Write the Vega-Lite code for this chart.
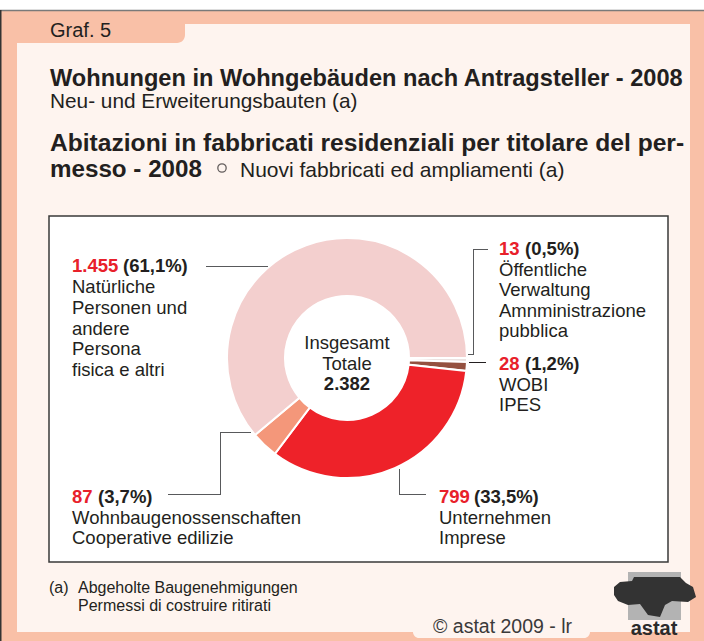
{
"$schema": "https://vega.github.io/schema/vega-lite/v6.json",
"width": 704, "height": 641,
"autosize": {"type": "none"},
"padding": 0,
"background": "white",
"config": {"view": {"stroke": null}, "font": "Liberation Sans"},
"data": {"values": [
 {"cat": "Öffentliche Verwaltung", "value": 13, "rank": 1, "num": "13", "pct": "(0,5%)", "desc": "Öffentliche\nVerwaltung\nAmnministrazione\npubblica"},
 {"cat": "WOBI", "value": 28, "rank": 2, "num": "28", "pct": "(1,2%)", "desc": "WOBI\nIPES"},
 {"cat": "Unternehmen", "value": 799, "rank": 3, "num": "799", "pct": "(33,5%)", "desc": "Unternehmen\nImprese"},
 {"cat": "Wohnbaugenossenschaften", "value": 87, "rank": 4, "num": "87", "pct": "(3,7%)", "desc": "Wohnbaugenossenschaften\nCooperative edilizie"},
 {"cat": "Natürliche Personen", "value": 1455, "rank": 5, "num": "1.455", "pct": "(61,1%)", "desc": "Natürliche\nPersonen und\nandere\nPersona\nfisica e altri"}
]},
"layer": [
 {"data": {"values": [{}]}, "mark": {"type": "rect", "fill": "#f9c0a7"},
  "encoding": {"x": {"datum": 0, "type": "quantitative", "scale": {"domain": [0, 704], "nice": false, "zero": false}, "axis": null},
   "x2": {"datum": 704}, "y": {"datum": 10, "type": "quantitative", "scale": {"domain": [0, 641], "nice": false, "zero": false, "reverse": true}, "axis": null}, "y2": {"datum": 641}}},
 {"data": {"values": [{}]}, "mark": {"type": "rect", "fill": "#fef4ef"},
  "encoding": {"x": {"datum": 17, "type": "quantitative"}, "x2": {"datum": 690}, "y": {"datum": 24, "type": "quantitative"}, "y2": {"datum": 632}}},
 {"data": {"values": [{}]}, "mark": {"type": "rect", "fill": "#fef4ef", "cornerRadius": 6},
  "encoding": {"x": {"datum": 413, "type": "quantitative"}, "x2": {"datum": 590}, "y": {"datum": 612, "type": "quantitative"}, "y2": {"datum": 638}}},
 {"data": {"values": [{}]}, "mark": {"type": "rect", "fill": "#f9c0a7", "cornerRadiusBottomRight": 8},
  "encoding": {"x": {"datum": 15, "type": "quantitative"}, "x2": {"datum": 185}, "y": {"datum": 10, "type": "quantitative"}, "y2": {"datum": 43}}},
 {"data": {"values": [{}]}, "mark": {"type": "rect", "fill": "white", "stroke": "#3a3a3a", "strokeWidth": 1.5},
  "encoding": {"x": {"datum": 49, "type": "quantitative"}, "x2": {"datum": 668}, "y": {"datum": 216, "type": "quantitative"}, "y2": {"datum": 562}}},
 {"data": {"values": [{}]}, "mark": {"type": "rule", "color": "#7a7a7a", "strokeWidth": 1.5},
  "encoding": {"x": {"datum": 0, "type": "quantitative"}, "x2": {"datum": 704}, "y": {"datum": 10.5, "type": "quantitative"}, "y2": {"datum": 10.5}}},
 {"data": {"values": [{}]}, "mark": {"type": "rule", "color": "#333333", "strokeWidth": 1.5},
  "encoding": {"x": {"datum": 0.75, "type": "quantitative"}, "x2": {"datum": 0.75}, "y": {"datum": 10, "type": "quantitative"}, "y2": {"datum": 641}}},

 {"data": {"values": [{}]}, "mark": {"type": "text", "text": "Graf. 5", "align": "left", "baseline": "alphabetic", "fontSize": 20, "color": "#231f20"},
  "encoding": {"x": {"datum": 50, "type": "quantitative"}, "y": {"datum": 37, "type": "quantitative"}}},
 {"data": {"values": [{}]}, "mark": {"type": "text", "text": "Wohnungen in Wohngebäuden nach Antragsteller - 2008", "align": "left", "baseline": "alphabetic", "fontSize": 23.6, "fontWeight": "bold", "color": "#231f20"},
  "encoding": {"x": {"datum": 50, "type": "quantitative"}, "y": {"datum": 86, "type": "quantitative"}}},
 {"data": {"values": [{}]}, "mark": {"type": "text", "text": "Neu- und Erweiterungsbauten (a)", "align": "left", "baseline": "alphabetic", "fontSize": 20.8, "color": "#231f20"},
  "encoding": {"x": {"datum": 50, "type": "quantitative"}, "y": {"datum": 108, "type": "quantitative"}}},
 {"data": {"values": [{}]}, "mark": {"type": "text", "text": "Abitazioni in fabbricati residenziali per titolare del per-", "align": "left", "baseline": "alphabetic", "fontSize": 24.6, "fontWeight": "bold", "color": "#231f20"},
  "encoding": {"x": {"datum": 50, "type": "quantitative"}, "y": {"datum": 151, "type": "quantitative"}}},
 {"data": {"values": [{}]}, "mark": {"type": "text", "text": "messo - 2008", "align": "left", "baseline": "alphabetic", "fontSize": 24.2, "fontWeight": "bold", "color": "#231f20"},
  "encoding": {"x": {"datum": 50, "type": "quantitative"}, "y": {"datum": 177, "type": "quantitative"}}},
 {"data": {"values": [{}]}, "mark": {"type": "point", "shape": "circle", "filled": false, "size": 70, "stroke": "#231f20", "strokeWidth": 1.3},
  "encoding": {"x": {"datum": 222, "type": "quantitative"}, "y": {"datum": 168, "type": "quantitative"}}},
 {"data": {"values": [{}]}, "mark": {"type": "text", "text": "Nuovi fabbricati ed ampliamenti (a)", "align": "left", "baseline": "alphabetic", "fontSize": 21, "color": "#231f20"},
  "encoding": {"x": {"datum": 240, "type": "quantitative"}, "y": {"datum": 177, "type": "quantitative"}}},

 {"mark": {"type": "arc", "innerRadius": 62, "outerRadius": 120, "stroke": "white", "strokeWidth": 2, "x": {"expr": "scale('x', 347)"}, "y": {"expr": "scale('y', 358)"}},
  "encoding": {
   "theta": {"field": "value", "type": "quantitative", "stack": true, "scale": {"range": [1.5708, 7.8540]}},
   "order": {"field": "rank", "type": "quantitative"},
   "color": {"field": "cat", "type": "nominal", "legend": null,
    "scale": {"domain": ["Öffentliche Verwaltung", "WOBI", "Unternehmen", "Wohnbaugenossenschaften", "Natürliche Personen"],
     "range": ["#ece3e1", "#94503f", "#ee2229", "#f4977a", "#f3cfce"]}}}},

 {"data": {"values": [{}]}, "mark": {"type": "text", "text": ["Insgesamt", "Totale"], "align": "center", "baseline": "alphabetic", "fontSize": 18.5, "lineHeight": 21, "color": "#231f20"},
  "encoding": {"x": {"datum": 347, "type": "quantitative"}, "y": {"datum": 349, "type": "quantitative"}}},
 {"data": {"values": [{}]}, "mark": {"type": "text", "text": "2.382", "align": "center", "baseline": "alphabetic", "fontSize": 18.5, "fontWeight": "bold", "color": "#231f20"},
  "encoding": {"x": {"datum": 347, "type": "quantitative"}, "y": {"datum": 390, "type": "quantitative"}}},

 {"data": {"values": [{}]}, "mark": {"type": "rule", "color": "#58595b", "strokeWidth": 1},
  "encoding": {"x": {"datum": 206, "type": "quantitative"}, "x2": {"datum": 268}, "y": {"datum": 266.5, "type": "quantitative"}, "y2": {"datum": 266.5}}},
 {"data": {"values": [{}]}, "mark": {"type": "rule", "color": "#58595b", "strokeWidth": 1},
  "encoding": {"x": {"datum": 473.5, "type": "quantitative"}, "x2": {"datum": 488}, "y": {"datum": 249.5, "type": "quantitative"}, "y2": {"datum": 249.5}}},
 {"data": {"values": [{}]}, "mark": {"type": "rule", "color": "#58595b", "strokeWidth": 1},
  "encoding": {"x": {"datum": 473.5, "type": "quantitative"}, "x2": {"datum": 473.5}, "y": {"datum": 249, "type": "quantitative"}, "y2": {"datum": 355}}},
 {"data": {"values": [{}]}, "mark": {"type": "rule", "color": "#58595b", "strokeWidth": 1},
  "encoding": {"x": {"datum": 468, "type": "quantitative"}, "x2": {"datum": 474}, "y": {"datum": 354.5, "type": "quantitative"}, "y2": {"datum": 354.5}}},
 {"data": {"values": [{}]}, "mark": {"type": "rule", "color": "#231f20", "strokeWidth": 1},
  "encoding": {"x": {"datum": 469, "type": "quantitative"}, "x2": {"datum": 486}, "y": {"datum": 362.5, "type": "quantitative"}, "y2": {"datum": 362.5}}},
 {"data": {"values": [{}]}, "mark": {"type": "rule", "color": "#58595b", "strokeWidth": 1},
  "encoding": {"x": {"datum": 168, "type": "quantitative"}, "x2": {"datum": 220.5}, "y": {"datum": 494.5, "type": "quantitative"}, "y2": {"datum": 494.5}}},
 {"data": {"values": [{}]}, "mark": {"type": "rule", "color": "#58595b", "strokeWidth": 1},
  "encoding": {"x": {"datum": 220.5, "type": "quantitative"}, "x2": {"datum": 220.5}, "y": {"datum": 432, "type": "quantitative"}, "y2": {"datum": 495}}},
 {"data": {"values": [{}]}, "mark": {"type": "rule", "color": "#58595b", "strokeWidth": 1},
  "encoding": {"x": {"datum": 220, "type": "quantitative"}, "x2": {"datum": 251}, "y": {"datum": 432.5, "type": "quantitative"}, "y2": {"datum": 432.5}}},
 {"data": {"values": [{}]}, "mark": {"type": "rule", "color": "#58595b", "strokeWidth": 1},
  "encoding": {"x": {"datum": 399.5, "type": "quantitative"}, "x2": {"datum": 399.5}, "y": {"datum": 469, "type": "quantitative"}, "y2": {"datum": 495}}},
 {"data": {"values": [{}]}, "mark": {"type": "rule", "color": "#58595b", "strokeWidth": 1},
  "encoding": {"x": {"datum": 399, "type": "quantitative"}, "x2": {"datum": 426}, "y": {"datum": 494.5, "type": "quantitative"}, "y2": {"datum": 494.5}}},

 {"transform": [{"filter": "datum.rank == 5"}], "mark": {"type": "text", "align": "left", "baseline": "alphabetic", "fontSize": 18.5, "fontWeight": "bold", "color": "#e8202a"},
  "encoding": {"x": {"datum": 72, "type": "quantitative"}, "y": {"datum": 272, "type": "quantitative"}, "text": {"field": "num", "type": "nominal"}}},
 {"transform": [{"filter": "datum.rank == 5"}], "mark": {"type": "text", "align": "left", "baseline": "alphabetic", "fontSize": 18.5, "fontWeight": "bold", "color": "#231f20"},
  "encoding": {"x": {"datum": 123, "type": "quantitative"}, "y": {"datum": 272, "type": "quantitative"}, "text": {"field": "pct", "type": "nominal"}}},
 {"transform": [{"filter": "datum.rank == 5"}], "mark": {"type": "text", "align": "left", "baseline": "alphabetic", "fontSize": 18.5, "lineBreak": "\n", "lineHeight": 20.8, "color": "#231f20"},
  "encoding": {"x": {"datum": 72, "type": "quantitative"}, "y": {"datum": 293, "type": "quantitative"}, "text": {"field": "desc", "type": "nominal"}}},

 {"transform": [{"filter": "datum.rank == 1"}], "mark": {"type": "text", "align": "left", "baseline": "alphabetic", "fontSize": 18.5, "fontWeight": "bold", "color": "#e8202a"},
  "encoding": {"x": {"datum": 499, "type": "quantitative"}, "y": {"datum": 255, "type": "quantitative"}, "text": {"field": "num", "type": "nominal"}}},
 {"transform": [{"filter": "datum.rank == 1"}], "mark": {"type": "text", "align": "left", "baseline": "alphabetic", "fontSize": 18.5, "fontWeight": "bold", "color": "#231f20"},
  "encoding": {"x": {"datum": 525, "type": "quantitative"}, "y": {"datum": 255, "type": "quantitative"}, "text": {"field": "pct", "type": "nominal"}}},
 {"transform": [{"filter": "datum.rank == 1"}], "mark": {"type": "text", "align": "left", "baseline": "alphabetic", "fontSize": 18.5, "lineBreak": "\n", "lineHeight": 20.3, "color": "#231f20"},
  "encoding": {"x": {"datum": 499, "type": "quantitative"}, "y": {"datum": 276, "type": "quantitative"}, "text": {"field": "desc", "type": "nominal"}}},

 {"transform": [{"filter": "datum.rank == 2"}], "mark": {"type": "text", "align": "left", "baseline": "alphabetic", "fontSize": 18.5, "fontWeight": "bold", "color": "#e8202a"},
  "encoding": {"x": {"datum": 499, "type": "quantitative"}, "y": {"datum": 370, "type": "quantitative"}, "text": {"field": "num", "type": "nominal"}}},
 {"transform": [{"filter": "datum.rank == 2"}], "mark": {"type": "text", "align": "left", "baseline": "alphabetic", "fontSize": 18.5, "fontWeight": "bold", "color": "#231f20"},
  "encoding": {"x": {"datum": 525, "type": "quantitative"}, "y": {"datum": 370, "type": "quantitative"}, "text": {"field": "pct", "type": "nominal"}}},
 {"transform": [{"filter": "datum.rank == 2"}], "mark": {"type": "text", "align": "left", "baseline": "alphabetic", "fontSize": 18.5, "lineBreak": "\n", "lineHeight": 20.5, "color": "#231f20"},
  "encoding": {"x": {"datum": 499, "type": "quantitative"}, "y": {"datum": 390.5, "type": "quantitative"}, "text": {"field": "desc", "type": "nominal"}}},

 {"transform": [{"filter": "datum.rank == 4"}], "mark": {"type": "text", "align": "left", "baseline": "alphabetic", "fontSize": 18.5, "fontWeight": "bold", "color": "#e8202a"},
  "encoding": {"x": {"datum": 72, "type": "quantitative"}, "y": {"datum": 503, "type": "quantitative"}, "text": {"field": "num", "type": "nominal"}}},
 {"transform": [{"filter": "datum.rank == 4"}], "mark": {"type": "text", "align": "left", "baseline": "alphabetic", "fontSize": 18.5, "fontWeight": "bold", "color": "#231f20"},
  "encoding": {"x": {"datum": 98, "type": "quantitative"}, "y": {"datum": 503, "type": "quantitative"}, "text": {"field": "pct", "type": "nominal"}}},
 {"transform": [{"filter": "datum.rank == 4"}], "mark": {"type": "text", "align": "left", "baseline": "alphabetic", "fontSize": 18.5, "lineBreak": "\n", "lineHeight": 20.3, "color": "#231f20"},
  "encoding": {"x": {"datum": 72, "type": "quantitative"}, "y": {"datum": 524, "type": "quantitative"}, "text": {"field": "desc", "type": "nominal"}}},

 {"transform": [{"filter": "datum.rank == 3"}], "mark": {"type": "text", "align": "left", "baseline": "alphabetic", "fontSize": 18.5, "fontWeight": "bold", "color": "#e8202a"},
  "encoding": {"x": {"datum": 439, "type": "quantitative"}, "y": {"datum": 503, "type": "quantitative"}, "text": {"field": "num", "type": "nominal"}}},
 {"transform": [{"filter": "datum.rank == 3"}], "mark": {"type": "text", "align": "left", "baseline": "alphabetic", "fontSize": 18.5, "fontWeight": "bold", "color": "#231f20"},
  "encoding": {"x": {"datum": 474, "type": "quantitative"}, "y": {"datum": 503, "type": "quantitative"}, "text": {"field": "pct", "type": "nominal"}}},
 {"transform": [{"filter": "datum.rank == 3"}], "mark": {"type": "text", "align": "left", "baseline": "alphabetic", "fontSize": 18.5, "lineBreak": "\n", "lineHeight": 20.3, "color": "#231f20"},
  "encoding": {"x": {"datum": 439, "type": "quantitative"}, "y": {"datum": 524, "type": "quantitative"}, "text": {"field": "desc", "type": "nominal"}}},

 {"data": {"values": [{}]}, "mark": {"type": "text", "text": "(a)", "align": "left", "baseline": "alphabetic", "fontSize": 16, "color": "#231f20"},
  "encoding": {"x": {"datum": 49, "type": "quantitative"}, "y": {"datum": 593, "type": "quantitative"}}},
 {"data": {"values": [{}]}, "mark": {"type": "text", "text": ["Abgeholte Baugenehmigungen", "Permessi di costruire ritirati"], "align": "left", "baseline": "alphabetic", "fontSize": 16, "lineHeight": 18, "color": "#231f20"},
  "encoding": {"x": {"datum": 78, "type": "quantitative"}, "y": {"datum": 593, "type": "quantitative"}}},
 {"data": {"values": [{}]}, "mark": {"type": "text", "text": "© astat 2009 - lr", "align": "left", "baseline": "alphabetic", "fontSize": 19.5, "color": "#3a3a3a"},
  "encoding": {"x": {"datum": 433, "type": "quantitative"}, "y": {"datum": 633, "type": "quantitative"}}},

 {"data": {"values": [{}]}, "mark": {"type": "rect", "fill": "#b3b3b3"},
  "encoding": {"x": {"datum": 628, "type": "quantitative"}, "x2": {"datum": 681}, "y": {"datum": 572, "type": "quantitative"}, "y2": {"datum": 620}}},
 {"data": {"values": [{}]}, "mark": {"type": "point", "filled": true, "size": 6400, "color": "#333333", "opacity": 1, "strokeWidth": 0,
   "shape": "M-1.025,-0.125L-0.875,-0.25L-0.575,-0.275L-0.525,-0.375L0.625,-0.375L0.775,-0.225L0.95,-0.125L1.025,0.125L0.825,0.25L0.425,0.225L0.25,0.325L0.125,0.625L-0.175,0.575L-0.375,0.3L-0.675,0.325L-0.925,0.225L-1.025,0.075Z"},
  "encoding": {"x": {"datum": 655, "type": "quantitative"}, "y": {"datum": 592, "type": "quantitative"}}},
 {"data": {"values": [{}]}, "mark": {"type": "text", "text": "astat", "align": "center", "baseline": "alphabetic", "fontSize": 20, "fontWeight": "bold", "color": "#2b2b2b"},
  "encoding": {"x": {"datum": 654, "type": "quantitative"}, "y": {"datum": 635, "type": "quantitative"}}}
]
}
